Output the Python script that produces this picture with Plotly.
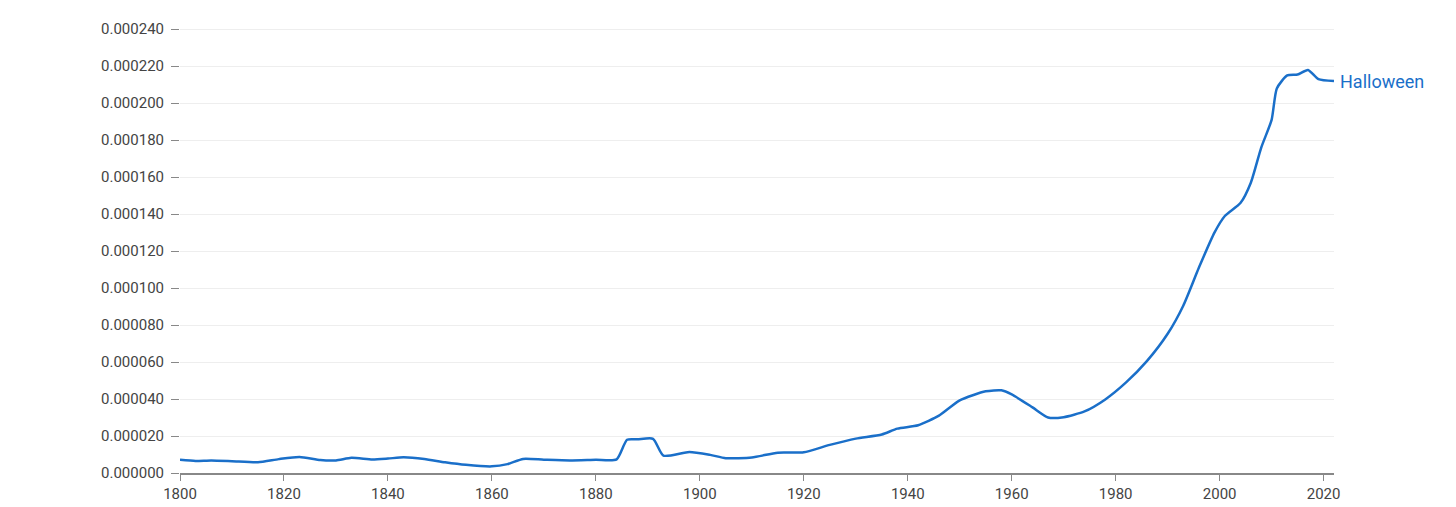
import plotly.graph_objects as go

years = [1800, 1803, 1806, 1810, 1815, 1819, 1823, 1827, 1830, 1833, 1837, 1840, 1843, 1847,
         1851, 1855, 1860, 1863, 1866, 1870, 1875, 1880, 1884, 1886, 1888, 1891, 1893, 1898,
         1902, 1905, 1910, 1915, 1920, 1925, 1930, 1935, 1938, 1942, 1946, 1950, 1955, 1958,
         1960, 1964, 1967, 1970, 1974, 1978, 1982, 1986, 1990, 1993, 1996, 1999, 2001, 2004,
         2006, 2008, 2010, 2011, 2013, 2015, 2017, 2019, 2022]
values = [7.1, 6.5, 6.8, 6.4, 5.8, 7.5, 8.7, 7.0, 6.8, 8.2, 7.3, 7.8, 8.5, 7.6,
          5.8, 4.4, 3.6, 4.8, 7.6, 7.2, 6.8, 7.2, 7.4, 18.0, 18.2, 18.5, 9.4, 11.4,
          9.8, 8.0, 8.4, 11.0, 11.2, 15.2, 18.6, 20.8, 24.0, 25.8, 31.0, 39.3, 44.2, 44.7,
          42.5, 35.5, 30.0, 30.2, 33.3, 39.8, 49.0, 60.5, 75.3, 90.5, 111.0, 130.0, 139.0, 146.0,
          157.0, 176.0, 191.0, 208.0, 215.0, 215.5, 218.0, 213.0, 212.0]
values = [v * 1e-6 for v in values]  # percent

fig = go.Figure(go.Scatter(
    x=years, y=values, mode="lines",
    line=dict(color="#1a6fc9", width=2.5, shape="spline", smoothing=0.6),
    hoverinfo="skip"))

fig.add_annotation(x=2022, y=values[-1], text="Halloween", showarrow=False,
                   xanchor="left", xshift=4, font=dict(color="#1a6fc9", size=18))

fig.update_layout(
    width=1456, height=507,
    margin=dict(l=172, r=130, t=12, b=36),
    plot_bgcolor="white", paper_bgcolor="white",
    showlegend=False,
    font=dict(family="Roboto", size=15, color="#444"),
    xaxis=dict(range=[1800, 2022], tickvals=list(range(1800, 2021, 20)),
               showgrid=False, showline=True, linecolor="#888", linewidth=1.5,
               ticks="outside", ticklen=6, tickcolor="#888", zeroline=False),
    yaxis=dict(range=[0, 0.000245], tickvals=[i * 0.00002 for i in range(13)],
               tickformat=".6f", ticksuffix="%", showgrid=True, gridcolor="#eeeeee",
               ticks="outside", ticklen=8, tickcolor="#888", zeroline=False,
               ticklabelstandoff=4),
)
fig.write_html("out.html")
